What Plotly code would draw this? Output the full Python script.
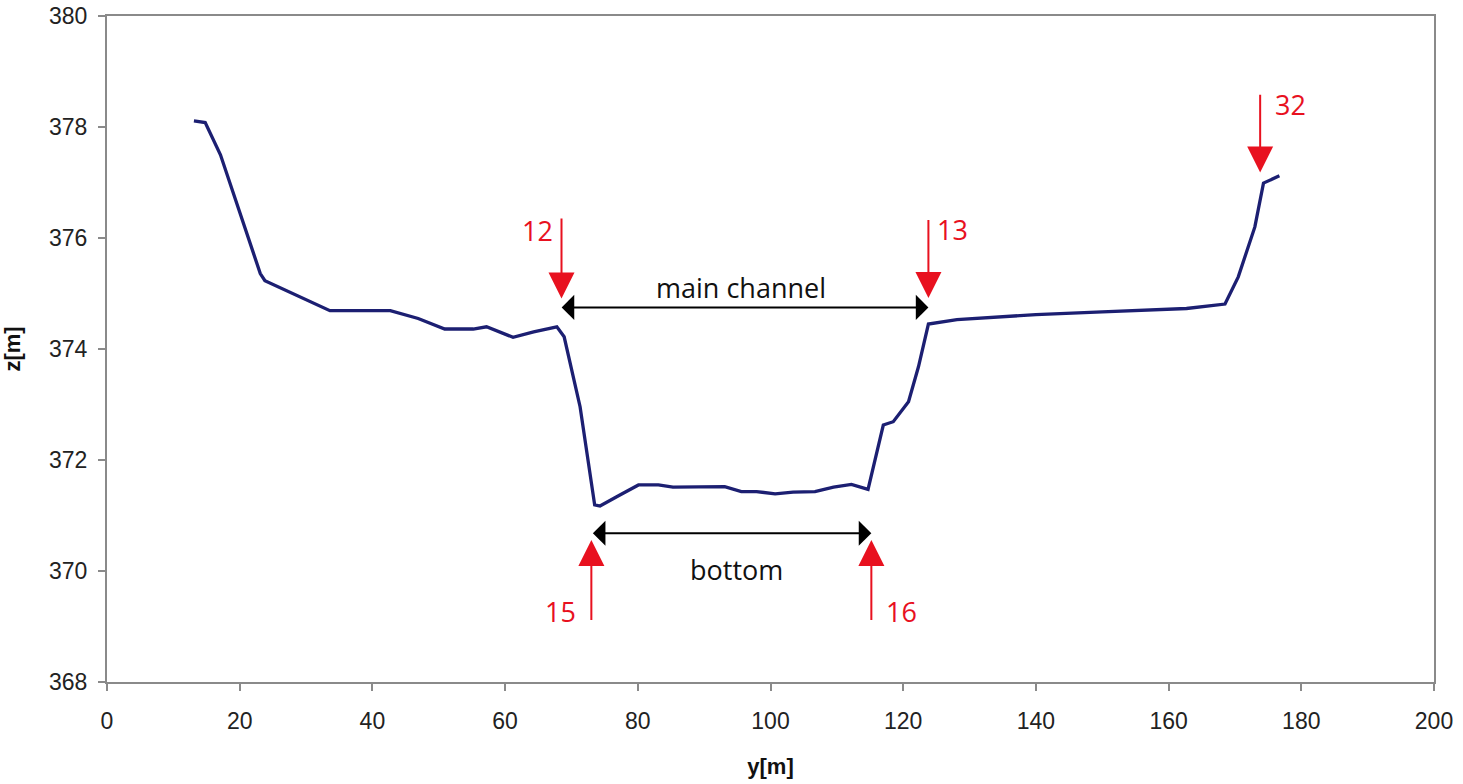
import plotly.graph_objects as go

# Cross-section survey: station y [m] and bed elevation z [m]
station_y = [13.1, 14.8, 17.1, 23.1, 23.8, 33.6, 42.7, 46.9, 50.9, 55.2, 57.2, 61.2,
             64.3, 67.8, 68.9, 71.3, 73.5, 74.3, 77.3, 80.1, 83.1, 85.3, 93.1, 95.6,
             97.9, 100.7, 103.4, 106.7, 109.5, 112.2, 114.7, 117.0, 118.5, 120.8,
             122.3, 123.8, 128.1, 140.0, 150.0, 162.7, 168.5, 170.5, 173.0, 174.3, 176.7]
elev_z = [378.11, 378.08, 377.50, 375.36, 375.23, 374.69, 374.69, 374.55, 374.36, 374.36,
          374.40, 374.21, 374.31, 374.40, 374.22, 372.96, 371.19, 371.17, 371.37, 371.55,
          371.55, 371.51, 371.52, 371.43, 371.43, 371.39, 371.42, 371.43, 371.51, 371.56,
          371.47, 372.63, 372.69, 373.05, 373.68, 374.45, 374.53, 374.62, 374.67, 374.73,
          374.81, 375.30, 376.20, 376.99, 377.12]

# Numbered survey points marked with red arrows
point_ids = ["12", "13", "32", "15", "16"]
point_y = [68.5, 123.8, 173.8, 73.0, 115.2]
arrow_tail_z = [376.38, 376.35, 378.61, 369.09, 369.09]
arrow_tip_z = [374.91, 374.92, 377.18, 370.56, 370.56]
label_y = [64.9, 127.5, 178.3, 68.3, 119.8]
label_z = [376.14, 376.16, 378.41, 369.27, 369.27]

# Extent markers (double-headed arrows)
span_names = ["main channel", "bottom"]
span_start = [68.3, 73.0]
span_end = [123.8, 115.2]
span_z = [374.75, 370.68]
span_label_y = [95.6, 94.8]
span_label_z = [375.10, 370.03]

x_ticks = list(range(0, 201, 20))
z_ticks = list(range(368, 381, 2))

RED = "#e8111f"
NAVY = "#1c1f72"
AXIS = "#8a8a8a"
LABEL_FONT = "Open Sans"

fig = go.Figure()
fig.add_trace(go.Scatter(x=station_y, y=elev_z, mode="lines",
                         line=dict(color=NAVY, width=3.3), hoverinfo="skip",
                         showlegend=False))

annotations = []
for pid, py, tz0, tz1, ly, lz in zip(point_ids, point_y, arrow_tail_z, arrow_tip_z,
                                      label_y, label_z):
    annotations.append(dict(x=py, y=tz1, ax=py, ay=tz0, xref="x", yref="y",
                            axref="x", ayref="y", text="", showarrow=True,
                            arrowhead=2, arrowsize=2.6, arrowwidth=2,
                            arrowcolor=RED))
    annotations.append(dict(x=ly, y=lz, xref="x", yref="y", text=pid,
                            showarrow=False,
                            font=dict(family=LABEL_FONT, size=27, color=RED)))

for name, s0, s1, sz, ly, lz in zip(span_names, span_start, span_end, span_z,
                                     span_label_y, span_label_z):
    annotations.append(dict(x=s1, y=sz, ax=s0, ay=sz, xref="x", yref="y",
                            axref="x", ayref="y", text="", showarrow=True,
                            arrowhead=1, startarrowhead=1, arrowside="end+start",
                            arrowsize=2.1, startarrowsize=2.1, arrowwidth=2,
                            arrowcolor="black"))
    annotations.append(dict(x=ly, y=lz, xref="x", yref="y", text=name,
                            showarrow=False,
                            font=dict(family=LABEL_FONT, size=27, color="#111111")))

axis_common = dict(showgrid=False, zeroline=False, showline=True, linecolor=AXIS,
                   linewidth=2, mirror=True, ticks="outside", ticklen=7,
                   tickwidth=1.5, tickcolor=AXIS, automargin=False,
                   tickfont=dict(family="Liberation Sans", size=23, color="#222222"))

fig.update_layout(
    width=1463, height=784,
    margin=dict(l=107, r=29, t=16, b=102),
    plot_bgcolor="white", paper_bgcolor="white",
    xaxis=dict(range=[0, 200], tickvals=x_ticks, ticklabelstandoff=10, **axis_common,
               title=dict(text="<b>y[m]</b>", standoff=26,
                          font=dict(family="Liberation Sans", size=22, color="#111111"))),
    yaxis=dict(range=[368, 380], tickvals=z_ticks, ticklabelstandoff=6, **axis_common,
               title=dict(text="<b>z[m]</b>", standoff=22,
                          font=dict(family="Liberation Sans", size=22, color="#111111"))),
    annotations=annotations,
)

fig.write_html("out.html")
